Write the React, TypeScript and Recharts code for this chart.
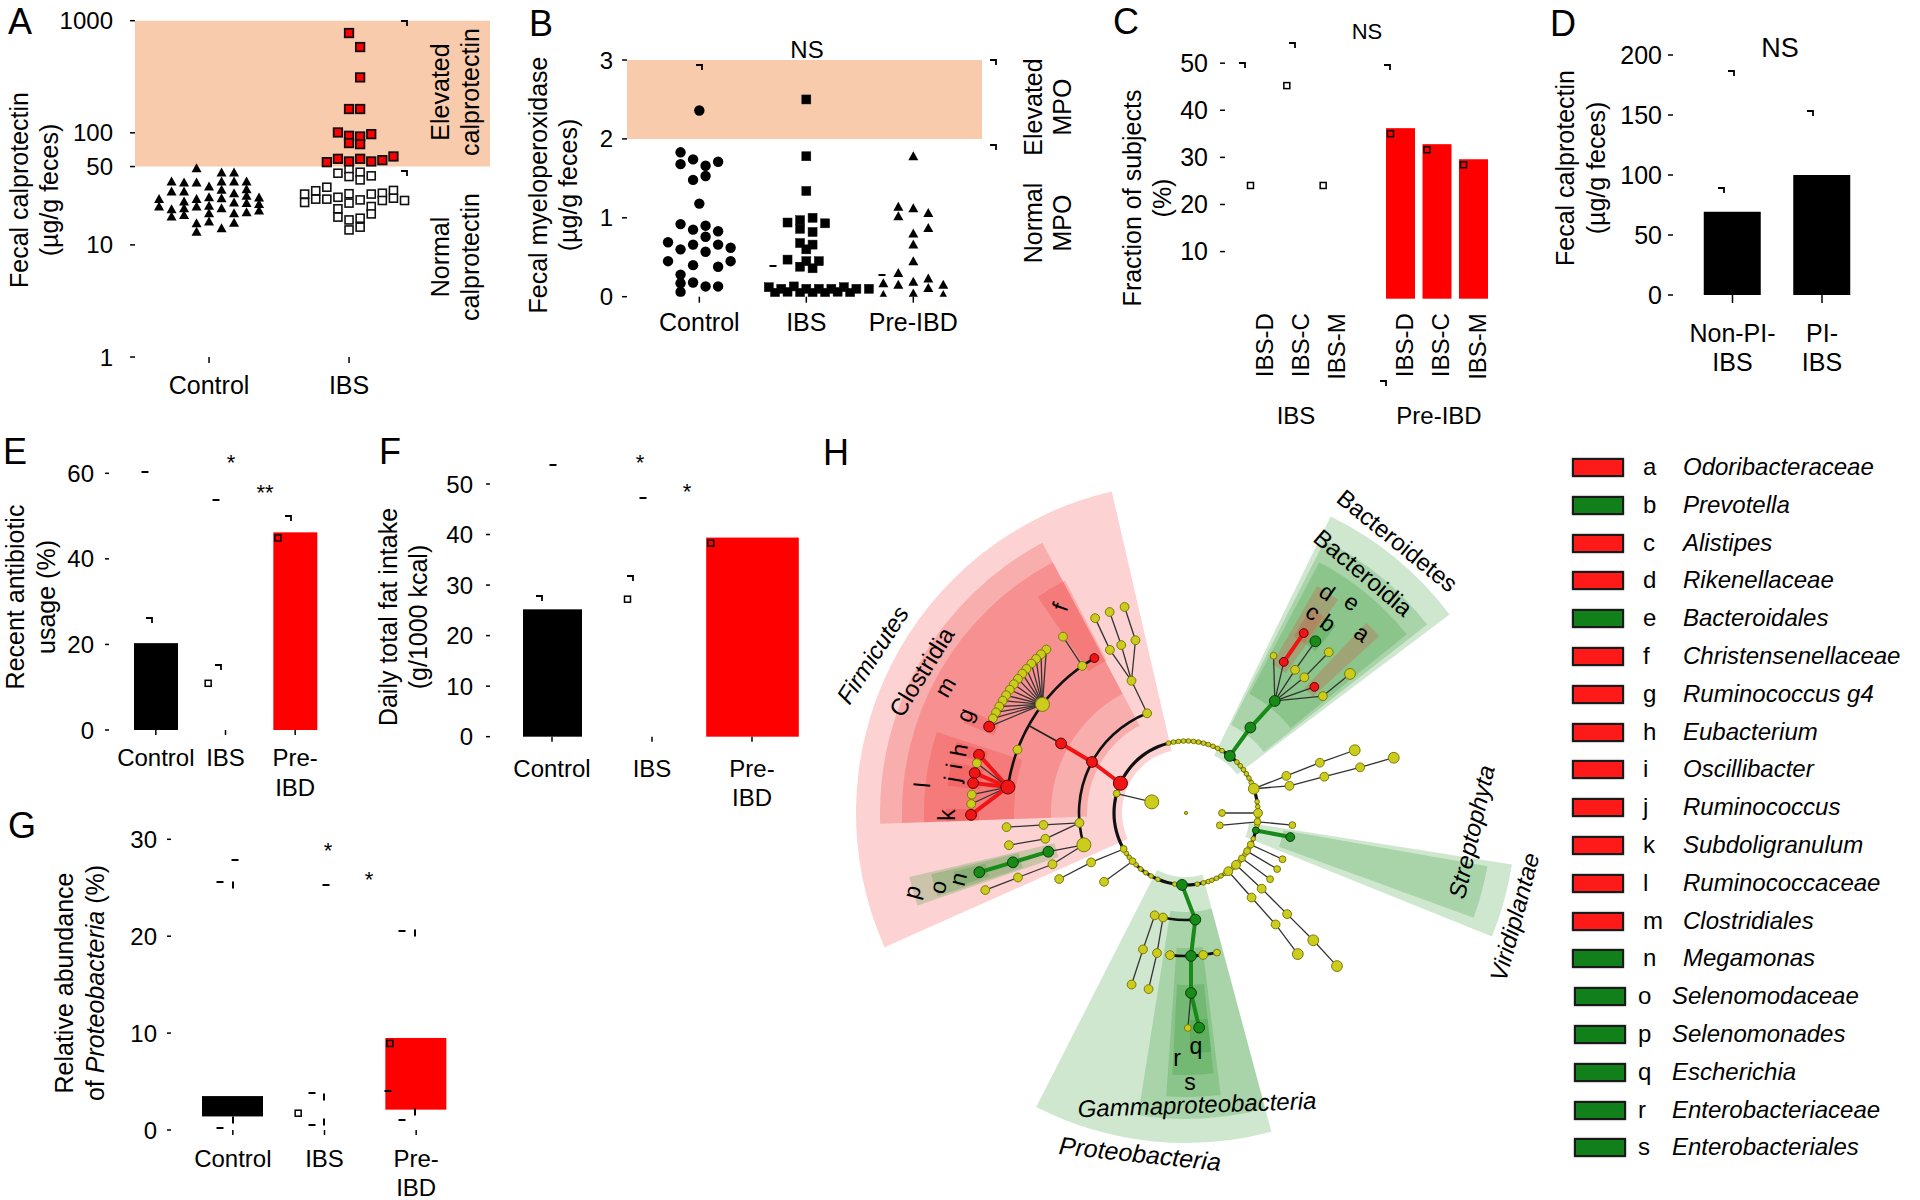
import React from 'react';
import {
  ScatterChart, Scatter, XAxis, YAxis, ReferenceArea, ReferenceLine,
  BarChart, Bar, PieChart, Pie,
} from 'recharts';

const FONT = '"Liberation Sans", Arial, Helvetica, sans-serif';

/* ======================= DATA ======================= */
// ---- Panel A : fecal calprotectin (log scale) ----
const A_GROUPS = ['Control', 'IBS'];
const A_Y_TICKS = [1, 10, 50, 100, 1000];
const A_ELEVATED_FROM = 50;
// [beeswarm column, value]
const A_CONTROL: [number, number][] = [
  [-4, 25.7], [-4, 22.0],
  [-3, 36.8], [-3, 29.9], [-3, 20.8], [-3, 17.9],
  [-2, 36.0], [-2, 29.9], [-2, 24.4], [-2, 21.2], [-2, 18.5],
  [-1, 48.4], [-1, 36.0], [-1, 25.7], [-1, 22.0], [-1, 15.6], [-1, 13.1],
  [0, 33.2], [0, 26.6], [0, 22.4], [0, 19.2], [0, 16.2],
  [1, 44.2], [1, 36.8], [1, 31.0], [1, 26.1], [1, 21.2], [1, 14.1],
  [2, 44.2], [2, 36.8], [2, 28.9], [2, 23.9], [2, 19.2], [2, 15.8],
  [3, 36.8], [3, 31.4], [3, 27.4], [3, 23.6], [3, 19.6],
  [4, 26.5], [4, 23.2], [4, 20.3],
];
const A_IBS_NORMAL: [number, number][] = [
  [-4, 28.4], [-4, 23.9], [-3, 30.4], [-3, 25.6], [-2, 32.7], [-2, 25.6],
  [-1, 43.6], [-1, 26.6], [-1, 21.0], [-1, 17.7],
  [0, 47.4], [0, 40.7], [0, 28.6], [0, 23.6], [0, 16.7], [0, 13.6],
  [1, 44.5], [1, 38.0], [1, 25.2], [1, 17.3], [1, 14.4],
  [2, 41.3], [2, 28.4], [2, 22.0], [2, 18.9],
  [3, 28.9], [3, 24.9], [4, 30.6], [4, 26.1], [5, 24.9],
];
const A_IBS_ELEVATED: [number, number][] = [
  [-2, 54.7], [-1, 100.7], [-1, 58.6],
  [0, 776], [0, 163], [0, 94], [0, 81], [0, 55.5],
  [1, 582], [1, 312], [1, 163], [1, 92.7], [1, 79.2], [1, 58.6],
  [2, 97.3], [2, 55.5], [3, 57.0], [4, 61.5],
];

// ---- Panel B : fecal myeloperoxidase ----
const B_GROUPS = ['Control', 'IBS', 'Pre-IBD'];
const B_Y_TICKS = [0, 1, 2, 3];
const B_ELEVATED_FROM = 2;
const B_CONTROL: [number, number][] = [
  [0, 2.36], [-1.5, 1.83], [-0.5, 1.74], [1.5, 1.71], [-1.5, 1.68], [0.5, 1.66],
  [0.5, 1.53], [-0.5, 1.48], [0, 1.18], [-1.5, 0.92], [0.5, 0.90], [-0.5, 0.85],
  [1.5, 0.83], [0.5, 0.76], [-2.5, 0.69], [-0.5, 0.66], [1.5, 0.66], [2.5, 0.62],
  [-1.5, 0.60], [0.5, 0.57], [-2.5, 0.45], [2.5, 0.45], [-0.5, 0.40], [1.5, 0.38],
  [-1.5, 0.28], [-0.5, 0.18], [-1.5, 0.17], [0.5, 0.13], [1.5, 0.13], [-1.5, 0.06],
];
const B_IBS: [number, number][] = [
  [0, 2.5], [0, 1.78], [0, 1.34], [-1.5, 0.94], [-0.5, 0.97], [0.5, 1.0], [1.5, 0.93],
  [-0.5, 0.86], [0.5, 0.82], [-0.5, 0.68], [0.5, 0.66], [0, 0.6], [-1.5, 0.47], [0, 0.45],
  [1, 0.45], [-0.5, 0.38], [0.5, 0.36], [-3, 0.12], [-2, 0.1], [-1, 0.13], [0, 0.1],
  [1, 0.1], [2, 0.1], [3, 0.12], [4, 0.1], [5, 0.1], [-2.5, 0.05], [-1.5, 0.06],
  [-0.5, 0.05], [0.5, 0.05], [1.5, 0.05], [2.5, 0.06], [3.5, 0.05],
];
const B_PREIBD: [number, number][] = [
  [0, 1.78], [-1, 1.14], [-1, 1.02], [0, 1.12], [1, 1.06], [1, 0.87], [0, 0.80],
  [0, 0.66], [0, 0.45], [-2, 0.17], [-2, 0.02], [-1, 0.30], [-1, 0.15], [0, 0.19],
  [0, 0.04], [1, 0.23], [1, 0.11], [2, 0.15], [2, 0.02],
];

// ---- Panel C : IBS subtypes ----
const C_SUBTYPES = ['IBS-D', 'IBS-C', 'IBS-M'];
const C_IBS = [25.2, 46.4, 25.2];
const C_PREIBD = [36.2, 32.8, 29.6];
const C_Y_TICKS = [10, 20, 30, 40, 50];

// ---- Panel D ----
const D_GROUPS = ['Non-PI-\nIBS', 'PI-\nIBS'];
const D_VALUES = [69.4, 100];
const D_Y_TICKS = [0, 50, 100, 150, 200];

// ---- Panels E, F, G ----
const EFG_GROUPS = ['Control', 'IBS', 'Pre-\nIBD'];
const E_VALUES = [20.3, 12.2, 46.2];
const E_Y_TICKS = [0, 20, 40, 60];
const F_VALUES = [25.2, 28.3, 39.4];
const F_Y_TICKS = [0, 10, 20, 30, 40, 50];
const G_LOW = [1.4, 0.9, 2.1];
const G_HIGH = [3.5, 2.3, 9.5];
const G_Y_TICKS = [0, 10, 20, 30];

// ---- Panel H : LEfSe cladogram ----
// [id, parent, angle(deg), level, enriched(r=red,g=green,n=none), abundance class]
const CLADE_NODES: [string, string | null, number, number, string, number][] = [
  ['root', null, 0, -2, 'n', 1],
  ['FIR', 'root', 155.6, 0, 'r', 5], ['BAC', 'root', 52.5, 0, 'g', 4], ['PRO', 'root', 266.8, 0, 'g', 4],
  ['VIR', 'root', 346, 0, 'g', 2], ['P20', 'root', 19.7, 0, 'n', 4], ['P0', 'root', 0, 0, 'n', 3],
  ['P164', 'root', 164.3, 0, 'n', 2], ['P210', 'root', 210, 0, 'n', 2], ['P222', 'root', 222, 0, 'n', 2],
  ['P353', 'root', 353, 0, 'n', 2], ['P334', 'root', 334, 0, 'n', 2], ['P328', 'root', 328, 0, 'n', 2],
  ['P322', 'root', 321, 0, 'n', 2], ['P315', 'root', 314, 0, 'n', 3], ['P308', 'root', 306, 0, 'n', 3],
  // Firmicutes
  ['C111', 'FIR', 111.3, 1, 'n', 3], ['O112', 'C111', 112.4, 2, 'n', 3],
  ['F115', 'O112', 115, 3, 'n', 3], ['G115', 'F115', 115, 4, 'n', 3],
  ['F111', 'O112', 111.1, 3, 'n', 3], ['G111', 'F111', 110.8, 4, 'n', 3],
  ['F106', 'O112', 106.3, 3, 'n', 3], ['G106', 'F106', 106.6, 4, 'n', 3],
  ['CLO', 'FIR', 151.5, 1, 'r', 4], ['CLOD', 'CLO', 150.9, 2, 'r', 4],
  ['CHR', 'CLOD', 120.6, 3, 'r', 3], ['F125', 'CLOD', 125.2, 3, 'n', 3], ['G125', 'F125', 124.9, 4, 'n', 3],
  ['LAC', 'CLOD', 142.9, 3, 'n', 5],
  ['L1', 'LAC', 130.5, 4, 'n', 3], ['L2', 'LAC', 132.4, 4, 'n', 3], ['L3', 'LAC', 134.2, 4, 'n', 3],
  ['L4', 'LAC', 136.0, 4, 'n', 3], ['L5', 'LAC', 137.9, 4, 'n', 3], ['L6', 'LAC', 139.6, 4, 'n', 3],
  ['L7', 'LAC', 141.4, 4, 'n', 3], ['L8', 'LAC', 143.2, 4, 'n', 3], ['L9', 'LAC', 145.0, 4, 'n', 3],
  ['L10', 'LAC', 146.8, 4, 'n', 3], ['L11', 'LAC', 148.5, 4, 'n', 3], ['L12', 'LAC', 150.3, 4, 'n', 3],
  ['L13', 'LAC', 152.1, 4, 'n', 3], ['L14', 'LAC', 153.9, 4, 'n', 3], ['RG4', 'LAC', 156.3, 4, 'r', 4],
  ['F159', 'CLOD', 159.4, 3, 'n', 3],
  ['RUM', 'CLOD', 171.7, 3, 'r', 5],
  ['EUB', 'RUM', 164.3, 4, 'r', 4], ['R166', 'RUM', 166.6, 4, 'n', 3], ['OSC', 'RUM', 169.3, 4, 'r', 4],
  ['RUMG', 'RUM', 172, 4, 'r', 4], ['R175', 'RUM', 175.1, 4, 'n', 3], ['R177', 'RUM', 177.6, 4, 'n', 3],
  ['SUB', 'RUM', 180.5, 4, 'r', 4],
  ['C185', 'FIR', 185.3, 1, 'n', 3], ['O185', 'C185', 184.8, 2, 'n', 3], ['F185', 'O185', 184.5, 3, 'n', 3],
  ['O190', 'C185', 190.4, 2, 'n', 3], ['F190', 'O190', 190.3, 3, 'n', 3],
  ['NEG', 'FIR', 197.3, 1, 'n', 5], ['SELO', 'NEG', 195.7, 2, 'g', 4], ['SELF', 'SELO', 195.9, 3, 'g', 4],
  ['MEG', 'SELF', 196, 4, 'g', 4],
  ['O201', 'NEG', 201, 2, 'n', 3], ['F201', 'O201', 201, 3, 'n', 3], ['G201', 'F201', 201, 4, 'n', 3],
  ['IN164', 'P164', 162, -1, 'n', 5],
  ['C207', 'P210', 207.5, 1, 'n', 3], ['O207', 'C207', 207.5, 2, 'n', 3],
  ['C220', 'P222', 220, 1, 'n', 3],
  // Bacteroidetes
  ['BCD', 'BAC', 53, 1, 'g', 4], ['BCO', 'BCD', 51.6, 2, 'g', 4],
  ['RIK', 'BCO', 57.1, 3, 'r', 3], ['ALI', 'RIK', 56.8, 4, 'r', 3],
  ['F61', 'BCO', 60.9, 3, 'n', 2],
  ['PRVF', 'BCO', 52.7, 3, 'n', 3], ['PREV', 'PRVF', 53, 4, 'g', 4],
  ['F49', 'BCO', 48.9, 3, 'n', 3], ['G48', 'F49', 48.4, 4, 'n', 3],
  ['ODO', 'BCO', 44.5, 3, 'r', 3],
  ['F40', 'BCO', 40.5, 3, 'n', 3], ['G40', 'F40', 40.3, 4, 'n', 4],
  // Proteobacteria
  ['GAM', 'PRO', 275, 1, 'g', 4], ['ENT', 'GAM', 272, 2, 'g', 4], ['ENTF', 'ENT', 271.6, 3, 'g', 4],
  ['ESC', 'ENTF', 273.5, 4, 'g', 4], ['G270', 'ENTF', 270.5, 4, 'n', 2],
  ['O263', 'GAM', 263.6, 2, 'n', 3], ['O277', 'GAM', 276.9, 2, 'n', 3], ['O282', 'GAM', 282.5, 2, 'n', 2],
  ['BET', 'PRO', 257.6, 1, 'n', 3], ['O258', 'BET', 258.3, 2, 'n', 3], ['F258', 'O258', 258, 3, 'n', 3],
  ['C253', 'PRO', 253, 1, 'n', 3], ['O252', 'C253', 252.5, 2, 'n', 3], ['F252', 'O252', 252.4, 3, 'n', 3],
  // other phyla
  ['C20', 'P20', 20.3, 1, 'n', 3], ['O20', 'C20', 20.6, 2, 'n', 3], ['F20', 'O20', 20.4, 3, 'n', 4],
  ['C15', 'P20', 14.7, 1, 'n', 3], ['O15', 'C15', 14.7, 2, 'n', 3], ['F15', 'O15', 14.7, 3, 'n', 3],
  ['G15', 'F15', 14.9, 4, 'n', 4],
  ['IN0', 'P0', 0, -1, 'n', 2], ['IN340', 'P353', 340, -1, 'n', 2], ['C353', 'P353', 353.5, 1, 'n', 2],
  ['STR', 'VIR', 347, 1, 'g', 3],
  ['C334', 'P334', 334.4, 1, 'n', 2], ['C328', 'P328', 328.4, 1, 'n', 2], ['C322', 'P322', 321.8, 1, 'n', 2],
  ['C315', 'P315', 315, 1, 'n', 3], ['O315', 'C315', 315, 2, 'n', 3], ['F315', 'O315', 315, 3, 'n', 4],
  ['G315', 'F315', 314.6, 4, 'n', 4],
  ['C308', 'P308', 307.8, 1, 'n', 3], ['O308', 'C308', 308.8, 2, 'n', 3], ['F308', 'O308', 308.4, 3, 'n', 4],
];
// low-abundance phyla sitting on the inner ring (angle, deg)
const CLADE_RING_DOTS = [
  5, 9, 25, 29, 33, 37, 41, 45, 60, 64, 68, 72, 76, 80, 84, 88, 92, 96, 100, 104,
  214, 218, 226, 231, 236, 241, 247, 261, 279, 284, 288, 291, 295, 299, 303, 311, 318, 325, 331, 339, 350, 357,
];
// shaded clades: [name, fromAngle, toAngle, level, enriched]
const CLADE_SHADES: [string, number, number, number, string][] = [
  ['Firmicutes', 103, 204, 0, 'r'], ['Clostridia', 118, 182, 1, 'r'], ['Clostridiales', 118, 182, 2, 'r'],
  ['Christensenellaceae', 117.5, 124.5, 3, 'r'], ['Ruminococcaceae', 162, 182, 3, 'r'],
  ['Ruminococcus g4', 154.6, 158, 4, 'r'], ['Eubacterium', 162.8, 165.8, 4, 'r'],
  ['Oscillibacter', 167.8, 170.6, 4, 'r'], ['Ruminococcus', 170.6, 173.5, 4, 'r'],
  ['Subdoligranulum', 179, 182, 4, 'r'],
  ['Selenomonadales', 193, 199, 2, 'g'], ['Selenomonadaceae', 193.5, 198.5, 3, 'g'], ['Megamonas', 194.2, 197.8, 4, 'g'],
  ['Bacteroidetes', 37, 64, 0, 'g'], ['Bacteroidia', 38, 63, 1, 'g'], ['Bacteroidales', 39, 62, 2, 'g'],
  ['Rikenellaceae', 54.5, 60, 3, 'r'], ['Alistipes', 55, 58.6, 4, 'r'], ['Prevotella', 51.3, 54.7, 4, 'g'],
  ['Odoribacteraceae', 42.5, 46.5, 3, 'r'],
  ['Proteobacteria', 243, 285, 0, 'g'], ['Gammaproteobacteria', 261, 285, 1, 'g'],
  ['Enterobacteriales', 266, 277, 2, 'g'], ['Enterobacteriaceae', 267, 276, 3, 'g'], ['Escherichia', 271, 276, 4, 'g'],
  ['Viridiplantae', 338, 351, 0, 'g'], ['Streptophyta', 340, 350, 1, 'g'],
];
// black connector arcs joining the children of a node: [parent, child level, fromAngle, toAngle, keep direct coloured link]
const CLADE_ARCS: [string, number, number, number, boolean][] = [
  ['root', 0, 0, 360, false], ['FIR', 1, 111.3, 197.3, true], ['CLOD', 3, 120.6, 171.7, false],
  ['PRO', 1, 252.4, 275, true], ['GAM', 2, 263.6, 282.5, true],
];
const LEGEND_LETTERS = ['a', 'b', 'c', 'd', 'e', 'f', 'g', 'h', 'i', 'j', 'k', 'l', 'm', 'n', 'o', 'p', 'q', 'r', 's'];
const LEGEND_NAMES = [
  'Odoribacteraceae', 'Prevotella', 'Alistipes', 'Rikenellaceae', 'Bacteroidales', 'Christensenellaceae',
  'Ruminococcus g4', 'Eubacterium', 'Oscillibacter', 'Ruminococcus', 'Subdoligranulum', 'Ruminococcaceae',
  'Clostridiales', 'Megamonas', 'Selenomodaceae', 'Selenomonades', 'Escherichia', 'Enterobacteriaceae',
  'Enterobacteriales',
];
const LEGEND_ENRICHED = ['r', 'g', 'r', 'r', 'g', 'r', 'r', 'r', 'r', 'r', 'r', 'r', 'r', 'g', 'g', 'g', 'g', 'g', 'g'];

/* ======================= STYLE ======================= */
const TICK = { fill: '#000', fontSize: 24, fontFamily: FONT };
const TICK_LINE = { stroke: '#000', strokeWidth: 1.5 };
const PEACH = '#f8cbad';
const RED = '#ff0000';
const NODE_FILL: Record<string, string> = { r: '#f01414', g: '#178a17', n: '#cccc1c' };
const NODE_STROKE: Record<string, string> = { r: '#5a0000', g: '#0a3a0a', n: '#7a7a0a' };
const SHADE_FILL: Record<string, string> = { r: 'rgba(240,32,32,0.2)', g: 'rgba(28,140,28,0.21)' };
const LEGEND_FILL: Record<string, string> = { r: '#ff1a1a', g: '#12801a' };
const NODE_R = [0, 2.3, 3.4, 4.4, 5.4, 7];
const CLADE_R = [72, 107, 143, 180, 215];
const SHADE_IN = [64, 99, 135, 172, 207];
const SHADE_OUT = [330, 306, 284, 262, 240];
const H_SIZE = 680;
const H_HALF = 340;

// leftover bracket/cap fragments printed in the source figure (page pixels, decoration only)
const DECOR_DASH: [number, number][] = [
  [773, 266], [882, 275], [145, 472], [216, 500], [553, 465], [643, 498],
  [235, 860], [220, 882], [326, 885], [402, 931], [312, 1093], [312, 1125], [388, 1091], [402, 1120], [220, 1128],
];
const DECOR_VDASH: [number, number][] = [[233, 885], [415, 933], [324, 1097], [324, 1122], [415, 1112], [233, 1120]];
const DECOR_CORNER: [number, number][] = [
  [404, 23], [404, 173], [699, 67], [993, 62], [993, 147], [1242, 65], [1292, 45], [1387, 67], [1383, 383],
  [1731, 73], [1721, 190], [1810, 113], [149, 620], [218, 667], [288, 518], [539, 598], [630, 578],
];

/* ======================= HELPERS ======================= */
const levelRadius = (l: number) => (l === -2 ? 0 : l === -1 ? 36 : CLADE_R[l]);
const polar = (ang: number, lvl: number) => {
  const r = levelRadius(lvl);
  const t = (ang * Math.PI) / 180;
  return { x: r * Math.cos(t), y: r * Math.sin(t) };
};

const triShape = (s: number) => (p: any) => (
  <path d={`M${p.cx},${p.cy - s} L${p.cx + s},${p.cy + s * 0.8} L${p.cx - s},${p.cy + s * 0.8} Z`} fill="#000" />
);
const sqShape = (s: number, fill: string, sw: number) => (p: any) => (
  <rect x={p.cx - s / 2} y={p.cy - s / 2} width={s} height={s} fill={fill} stroke="#111" strokeWidth={sw} />
);
const dotShape = (r: number) => (p: any) => <circle cx={p.cx} cy={p.cy} r={r} fill="#000" />;

const markedBar = (cats: string[], fills: string[], marks: string[], widen: number[] = [1, 1, 1]) => (p: any) => {
  const i = Math.max(0, cats.indexOf(p.payload.name));
  const w = p.width * widen[i];
  const x = p.x + p.width / 2 - w / 2;
  return (
    <g>
      {fills[i] !== 'none' && <rect x={x} y={p.y} width={w} height={p.height} fill={fills[i]} />}
      <rect x={x + 1.5} y={p.y + 2.5} width={6} height={6} fill={marks[i]} stroke="#000" strokeWidth={1.5} />
    </g>
  );
};

const multiTick = (offsets: number[], size = 24) => (p: any) => {
  const lines = String(p.payload.value).split('\n');
  return (
    <g>
      {lines.map((l, i) => (
        <text key={i} x={p.x} y={p.y + offsets[i]} textAnchor="middle" fill="#000" fontSize={size} fontFamily={FONT}>{l}</text>
      ))}
    </g>
  );
};
const rotTick = (p: any) => (
  <text x={p.x + 4} y={p.y + 14.5} transform={`rotate(-90, ${p.x + 4}, ${p.y + 14.5})`} textAnchor="end"
    dominantBaseline="central" fill="#000" fontSize={24} fontFamily={FONT}>{p.payload.value}</text>
);

const Txt = ({ cx, cy, children, size = 24, rot = 0, italic = false, lh }: any) => (
  <div style={{
    position: 'absolute', left: cx, top: cy, transform: `translate(-50%, -50%) rotate(${rot}deg)`,
    fontSize: size, lineHeight: `${lh ?? Math.round(size * 1.15)}px`, fontStyle: italic ? 'italic' : 'normal',
    whiteSpace: 'pre', textAlign: 'center', color: '#000', fontFamily: FONT,
  }}>{children}</div>
);

const Abs = ({ left, top, children }: any) => (
  <div style={{ position: 'absolute', left, top }}>{children}</div>
);

/* ======================= PANELS ======================= */
function PanelA() {
  const ctrl = A_CONTROL.map(([c, v]) => ({ x: 1 + c * 0.0893, y: v }));
  const norm = A_IBS_NORMAL.map(([c, v]) => ({ x: 2 + c * 0.0793, y: v }));
  const elev = A_IBS_ELEVATED.map(([c, v]) => ({ x: 2 + c * 0.0793, y: v }));
  return (
    <Abs left={0} top={0}>
      <ScatterChart width={500} height={417} margin={{ top: 20.7, right: 10, bottom: 0, left: 0 }}>
        <XAxis type="number" dataKey="x" domain={[0.471, 3.007]} ticks={[1, 2]} allowDataOverflow interval={0}
          tickFormatter={(v: number) => A_GROUPS[v - 1]} axisLine={false} tickLine={TICK_LINE} tickSize={6}
          tickMargin={13} height={60} tick={{ ...TICK, fontSize: 25 }} />
        <YAxis type="number" dataKey="y" scale="log" domain={[1, 1000]} ticks={A_Y_TICKS} allowDataOverflow interval={0}
          axisLine={false} tickLine={TICK_LINE} tickSize={5} tickMargin={17} width={135} tick={TICK} />
        <ReferenceArea x1={0.471} x2={3.007} y1={A_ELEVATED_FROM} y2={1000} fill={PEACH} fillOpacity={1} stroke="none" />
        <Scatter data={ctrl} shape={triShape(5)} isAnimationActive={false} />
        <Scatter data={norm} shape={sqShape(8, '#fff', 1.6)} isAnimationActive={false} />
        <Scatter data={elev} shape={sqShape(8.5, RED, 1.8)} isAnimationActive={false} />
      </ScatterChart>
    </Abs>
  );
}

function PanelB() {
  const ctrl = B_CONTROL.map(([c, v]) => ({ x: 1 + c * 0.117, y: v }));
  const ibs = B_IBS.map(([c, v]) => ({ x: 2 + c * 0.117, y: v }));
  const pre = B_PREIBD.map(([c, v]) => ({ x: 3 + c * 0.14, y: v }));
  return (
    <Abs left={527} top={0}>
      <ScatterChart width={465} height={356.7} margin={{ top: 60, right: 10, bottom: 0, left: 0 }}>
        <XAxis type="number" dataKey="x" domain={[0.324, 3.642]} ticks={[1, 2, 3]} allowDataOverflow interval={0}
          tickFormatter={(v: number) => B_GROUPS[v - 1]} axisLine={false} tickLine={TICK_LINE} tickSize={6}
          tickMargin={11} height={60} tick={{ ...TICK, fontSize: 25 }} />
        <YAxis type="number" dataKey="y" domain={[0, 3]} ticks={B_Y_TICKS} allowDataOverflow interval={0}
          axisLine={false} tickLine={TICK_LINE} tickSize={5} tickMargin={9} width={100} tick={TICK} />
        <ReferenceArea x1={0.324} x2={3.642} y1={B_ELEVATED_FROM} y2={3} fill={PEACH} fillOpacity={1} stroke="none" />
        <Scatter data={ctrl} shape={dotShape(5.2)} isAnimationActive={false} />
        <Scatter data={ibs} shape={sqShape(9, '#000', 0.5)} isAnimationActive={false} />
        <Scatter data={pre} shape={triShape(5)} isAnimationActive={false} />
      </ScatterChart>
    </Abs>
  );
}

function PanelC() {
  const ibs = C_SUBTYPES.map((name, i) => ({ name, value: C_IBS[i] }));
  const pre = C_SUBTYPES.map((name, i) => ({ name, value: C_PREIBD[i] }));
  return (
    <>
      <Abs left={1125} top={0}>
        <BarChart width={236} height={398.7} data={ibs} margin={{ top: 39.6, right: 5, bottom: 0, left: 0 }}>
          <XAxis dataKey="name" type="category" padding={{ left: 17, right: 5 }} axisLine={false} tickLine={false}
            tickSize={0} tickMargin={0} height={100} interval={0} tick={rotTick} />
          <YAxis type="number" domain={[0, 55]} ticks={C_Y_TICKS} interval={0} axisLine={false} tickLine={TICK_LINE}
            tickSize={5} tickMargin={12} width={100} tick={{ ...TICK, fontSize: 25 }} />
          <Bar dataKey="value" barSize={29} isAnimationActive={false}
            shape={markedBar(C_SUBTYPES, ['none', 'none', 'none'], ['#fff', '#fff', '#fff'])} />
        </BarChart>
      </Abs>
      <Abs left={1382.25} top={0}>
        <BarChart width={119.5} height={398.7} data={pre} margin={{ top: 39.6, right: 10, bottom: 0, left: 0 }}>
          <XAxis dataKey="name" type="category" axisLine={false} tickLine={false} tickSize={0} tickMargin={0}
            height={100} interval={0} tick={rotTick} />
          <YAxis type="number" domain={[0, 55]} hide width={0} />
          <Bar dataKey="value" barSize={29} isAnimationActive={false}
            shape={markedBar(C_SUBTYPES, [RED, RED, RED], [RED, RED, RED])} />
        </BarChart>
      </Abs>
    </>
  );
}

function PanelD() {
  const data = D_GROUPS.map((name, i) => ({ name, value: D_VALUES[i] }));
  return (
    <Abs left={1573} top={0}>
      <BarChart width={307} height={375} data={data} margin={{ top: 55, right: 10, bottom: 0, left: 0 }}>
        <XAxis dataKey="name" type="category" padding={{ left: 14.75, right: 3.25 }} axisLine={false}
          tickLine={TICK_LINE} tickSize={8} tickMargin={0} height={80} interval={0} tick={multiTick([39, 68], 25)} />
        <YAxis type="number" domain={[0, 200]} ticks={D_Y_TICKS} interval={0} axisLine={false} tickLine={TICK_LINE}
          tickSize={5} tickMargin={6} width={100} tick={{ ...TICK, fontSize: 25 }} />
        <Bar dataKey="value" barSize={57} fill="#000" isAnimationActive={false} />
      </BarChart>
    </Abs>
  );
}

function SimpleBars({ left, top, width, height, mTop, xh, values, low, ticks, ymax, pad, barSize, offs, tickMargin, widen }: any) {
  const data = EFG_GROUPS.map((name, i) => ({ name, value: low ? [low[i], values[i]] : values[i] }));
  return (
    <Abs left={left} top={top}>
      <BarChart width={width} height={height} data={data} margin={{ top: mTop, right: 10, bottom: 0, left: 0 }}>
        <XAxis dataKey="name" type="category" padding={pad} axisLine={false} tickLine={TICK_LINE} tickSize={5}
          tickMargin={0} height={xh} interval={0} tick={multiTick(offs)} />
        <YAxis type="number" domain={[0, ymax]} ticks={ticks} interval={0} axisLine={false} tickLine={TICK_LINE}
          tickSize={4} tickMargin={tickMargin} width={100} tick={TICK} />
        <Bar dataKey="value" barSize={barSize} isAnimationActive={false}
          shape={markedBar(EFG_GROUPS, ['#000', 'none', RED], ['#000', '#fff', RED], widen)} />
      </BarChart>
    </Abs>
  );
}

function PanelH() {
  const byId: Record<string, any> = {};
  const nodes = CLADE_NODES.map(([id, parent, ang, lvl, en, ab]) => {
    const p = polar(ang, lvl);
    const n = { id, parent, ang, lvl, ...p, fill: NODE_FILL[en], stroke: NODE_STROKE[en], rad: id === 'root' ? 1.6 : NODE_R[ab], en };
    byId[id] = n;
    return n;
  });
  const arcOf: Record<string, [string, number, number, number, boolean]> = {};
  CLADE_ARCS.forEach((a) => { arcOf[a[0]] = a; });
  const dots = CLADE_RING_DOTS.map((a) => ({ ...polar(a, 0), fill: NODE_FILL.n, stroke: NODE_STROKE.n, rad: NODE_R[1] }));
  const edges: any[] = [];
  nodes.forEach((n) => {
    if (!n.parent || n.parent === 'root') return;
    const p = byId[n.parent as string];
    const colored = n.en !== 'n' && p.en === n.en;
    const arc = arcOf[p.id];
    if (arc && !(arc[4] && colored)) return; // joined through the arc instead
    edges.push({ a: p, b: n, stroke: colored ? NODE_FILL[n.en] : '#333', w: colored ? 4 : 1.3 });
  });
  CLADE_ARCS.forEach(([pid, lvl, , , direct]) => {
    if (direct || pid === 'root') return;
    const p = byId[pid];
    edges.push({ a: p, b: polar(p.ang, lvl), stroke: '#222', w: 1.6 });
  });
  const nodeShape = (p: any) => (
    <circle cx={p.cx} cy={p.cy} r={p.payload.rad} fill={p.payload.fill} stroke={p.payload.stroke} strokeWidth={1} />
  );
  const axes = (
    <>
      <XAxis type="number" dataKey="x" domain={[-H_HALF, H_HALF]} hide height={0} allowDataOverflow />
      <YAxis type="number" dataKey="y" domain={[-H_HALF, H_HALF]} hide width={0} allowDataOverflow />
    </>
  );
  return (
    <>
      <Abs left={846} top={473}>
        <PieChart width={H_SIZE} height={H_SIZE} margin={{ top: 0, right: 0, bottom: 0, left: 0 }}>
          {CLADE_SHADES.map(([name, a0, a1, lvl, en]) => (
            <Pie key={name} data={[{ v: 1 }]} dataKey="v" cx={H_HALF} cy={H_HALF} startAngle={a0} endAngle={a1}
              innerRadius={SHADE_IN[lvl]} outerRadius={SHADE_OUT[lvl]} fill={SHADE_FILL[en]} stroke="none"
              isAnimationActive={false} />
          ))}
          {CLADE_ARCS.map(([pid, lvl, a0, a1]) => (
            <Pie key={'arc' + pid} data={[{ v: 1 }]} dataKey="v" cx={H_HALF} cy={H_HALF} startAngle={a0} endAngle={a1}
              innerRadius={CLADE_R[lvl] - (lvl === 0 ? 1.6 : 1.3)} outerRadius={CLADE_R[lvl] + (lvl === 0 ? 1.6 : 1.3)}
              fill="#111" stroke="none" isAnimationActive={false} />
          ))}
        </PieChart>
      </Abs>
      <Abs left={846} top={473}>
        <ScatterChart width={H_SIZE} height={H_SIZE} margin={{ top: 0, right: 0, bottom: 0, left: 0 }}>
          {axes}
          {edges.map((e, i) => (
            <ReferenceLine key={i} segment={[{ x: e.a.x, y: e.a.y }, { x: e.b.x, y: e.b.y }]} stroke={e.stroke}
              strokeWidth={e.w} ifOverflow="visible" />
          ))}
          <Scatter data={[]} isAnimationActive={false} />
        </ScatterChart>
      </Abs>
      <Abs left={846} top={473}>
        <ScatterChart width={H_SIZE} height={H_SIZE} margin={{ top: 0, right: 0, bottom: 0, left: 0 }}>
          {axes}
          <Scatter data={dots} shape={nodeShape} isAnimationActive={false} />
          <Scatter data={nodes} shape={nodeShape} isAnimationActive={false} />
        </ScatterChart>
      </Abs>
    </>
  );
}

function Legend() {
  return (
    <>
      {LEGEND_NAMES.map((name, i) => {
        const y = 467 + i * 37.8;
        const shifted = i >= 14;
        return (
          <React.Fragment key={name}>
            <div style={{
              position: 'absolute', left: shifted ? 1574 : 1572, top: y - 9, width: 48, height: 15,
              background: LEGEND_FILL[LEGEND_ENRICHED[i]], border: '2px solid #1a1a1a', boxShadow: '0 0 1.5px #555',
            }} />
            <div style={{ position: 'absolute', left: shifted ? 1638 : 1643, top: y - 14, fontSize: 24, lineHeight: '28px', fontFamily: FONT }}>
              {LEGEND_LETTERS[i]}
            </div>
            <div style={{ position: 'absolute', left: shifted ? 1672 : 1683, top: y - 14, fontSize: 24, lineHeight: '28px', fontFamily: FONT, fontStyle: 'italic' }}>
              {name}
            </div>
          </React.Fragment>
        );
      })}
    </>
  );
}

function Decor() {
  return (
    <svg width={1920} height={1200} style={{ position: 'absolute', left: 0, top: 0, pointerEvents: 'none' }}>
      {DECOR_DASH.map(([x, y], i) => <line key={'d' + i} x1={x - 3.5} x2={x + 3.5} y1={y} y2={y} stroke="#000" strokeWidth={2} />)}
      {DECOR_VDASH.map(([x, y], i) => <line key={'v' + i} x1={x} x2={x} y1={y - 3.5} y2={y + 3.5} stroke="#000" strokeWidth={2} />)}
      {DECOR_CORNER.map(([x, y], i) => (
        <path key={'c' + i} d={`M${x - 3},${y - 2} L${x + 3},${y - 2} L${x + 3},${y + 3}`} fill="none" stroke="#000" strokeWidth={1.8} />
      ))}
    </svg>
  );
}

export default function App() {
  return (
    <div style={{ position: 'absolute', left: 0, top: 0, width: 1920, height: 1200, background: '#fff', fontFamily: FONT, overflow: 'hidden' }}>
      <PanelA />
      <PanelB />
      <PanelC />
      <PanelD />
      <SimpleBars left={9} top={440} width={336} height={370} mTop={33.3} xh={80} values={E_VALUES} ticks={E_Y_TICKS}
        ymax={60} pad={{ left: 12, right: 5 }} barSize={44} offs={[30.6, 60.6]} tickMargin={11} />
      <SimpleBars left={390} top={440} width={430} height={376.7} mTop={44} xh={80} values={F_VALUES} ticks={F_Y_TICKS}
        ymax={50} pad={{ left: 12, right: 8 }} barSize={59} offs={[35, 64]} tickMargin={13} widen={[1, 1, 1.57]} />
      <SimpleBars left={71} top={800} width={409} height={400} mTop={39.3} xh={70} values={G_HIGH} low={G_LOW} ticks={G_Y_TICKS}
        ymax={30} pad={{ left: 16, right: 8 }} barSize={61} offs={[31.6, 60.6]} tickMargin={10} />
      <PanelH />
      <Legend />
      <Decor />

      {/* panel letters */}
      <Txt cx={20} cy={21} size={36}>A</Txt>
      <Txt cx={541} cy={23} size={36}>B</Txt>
      <Txt cx={1126} cy={21} size={36}>C</Txt>
      <Txt cx={1563} cy={23} size={36}>D</Txt>
      <Txt cx={15} cy={451} size={36}>E</Txt>
      <Txt cx={390} cy={451} size={36}>F</Txt>
      <Txt cx={22} cy={825} size={36}>G</Txt>
      <Txt cx={836} cy={452} size={36}>H</Txt>

      {/* axis titles */}
      <Txt cx={34} cy={190} rot={-90} size={25} lh={30}>{'Fecal calprotectin\n(µg/g feces)'}</Txt>
      <Txt cx={553} cy={185} rot={-90} size={25} lh={30}>{'Fecal myeloperoxidase\n(µg/g feces)'}</Txt>
      <Txt cx={1147} cy={198} rot={-90} size={25} lh={30}>{'Fraction of subjects\n(%)'}</Txt>
      <Txt cx={1581} cy={168} rot={-90} size={25} lh={31}>{'Fecal calprotectin\n(µg/g feces)'}</Txt>
      <Txt cx={31} cy={597} rot={-90} size={25} lh={31}>{'Recent antibiotic\nusage (%)'}</Txt>
      <Txt cx={403} cy={617} rot={-90} size={25} lh={30}>{'Daily total fat intake\n(g/1000 kcal)'}</Txt>
      <Txt cx={80} cy={983} rot={-90} size={25} lh={31}>
        <div>Relative abundance</div>
        <div>of <i>Proteobacteria</i> (%)</div>
      </Txt>

      {/* annotations */}
      <Txt cx={455} cy={92} rot={-90} size={25} lh={30}>{'Elevated\ncalprotectin'}</Txt>
      <Txt cx={455} cy={257} rot={-90} size={25} lh={30}>{'Normal\ncalprotectin'}</Txt>
      <Txt cx={807} cy={50} size={24}>NS</Txt>
      <Txt cx={1048} cy={107} rot={-90} size={25} lh={29}>{'Elevated\nMPO'}</Txt>
      <Txt cx={1048} cy={223} rot={-90} size={25} lh={29}>{'Normal\nMPO'}</Txt>
      <Txt cx={1367} cy={31} size={22}>NS</Txt>
      <Txt cx={1296} cy={416} size={24}>IBS</Txt>
      <Txt cx={1439} cy={416} size={24}>Pre-IBD</Txt>
      <Txt cx={1780} cy={48} size={27}>NS</Txt>
      <Txt cx={231} cy={462} size={22}>*</Txt>
      <Txt cx={265} cy={492} size={22}>**</Txt>
      <Txt cx={640} cy={462} size={22}>*</Txt>
      <Txt cx={687} cy={491} size={22}>*</Txt>
      <Txt cx={328} cy={850} size={22}>*</Txt>
      <Txt cx={369} cy={879} size={22}>*</Txt>

      {/* cladogram labels */}
      <Txt cx={873} cy={655} rot={-57} size={24} italic>Firmicutes</Txt>
      <Txt cx={922} cy={672} rot={-58} size={24}>Clostridia</Txt>
      <Txt cx={1397} cy={541} rot={39} size={24}>Bacteroidetes</Txt>
      <Txt cx={1363} cy={573} rot={40} size={24}>Bacteroidia</Txt>
      <Txt cx={1472} cy={832} rot={-77} size={24} italic>Streptophyta</Txt>
      <Txt cx={1515} cy={917} rot={-75} size={24} italic>Viridiplantae</Txt>
      <Txt cx={1197} cy={1105} rot={-2} size={24} italic>Gammaproteobacteria</Txt>
      <Txt cx={1140} cy={1154} rot={6} size={25} italic>Proteobacteria</Txt>
      <Txt cx={1060} cy={607} rot={-70} size={23}>f</Txt>
      <Txt cx={945} cy={687} rot={-60} size={23}>m</Txt>
      <Txt cx={965} cy={715} rot={-68} size={23}>g</Txt>
      <Txt cx={959} cy={750} rot={-80} size={23}>h</Txt>
      <Txt cx={954} cy={766} rot={-80} size={23}>i</Txt>
      <Txt cx={952} cy={779} rot={-80} size={23}>j</Txt>
      <Txt cx={922} cy={785} rot={-85} size={23}>l</Txt>
      <Txt cx={947} cy={815} rot={-90} size={23}>k</Txt>
      <Txt cx={912} cy={892} rot={-75} size={23}>p</Txt>
      <Txt cx={938} cy={887} rot={-75} size={23}>o</Txt>
      <Txt cx={958} cy={879} rot={-75} size={23}>n</Txt>
      <Txt cx={1196} cy={1046} size={23}>q</Txt>
      <Txt cx={1177} cy={1058} size={23}>r</Txt>
      <Txt cx={1190} cy={1082} size={23}>s</Txt>
      <Txt cx={1327} cy={592} rot={35} size={23}>d</Txt>
      <Txt cx={1352} cy={602} rot={35} size={23}>e</Txt>
      <Txt cx={1313} cy={612} rot={35} size={23}>c</Txt>
      <Txt cx={1328} cy={623} rot={35} size={23}>b</Txt>
      <Txt cx={1362} cy={633} rot={35} size={23}>a</Txt>
    </div>
  );
}
